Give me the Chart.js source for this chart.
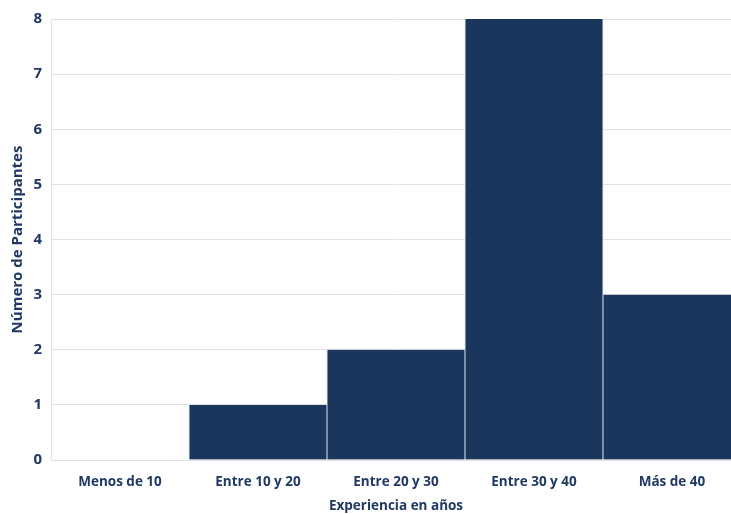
<!DOCTYPE html>
<html lang="es">
<head>
  <meta charset="UTF-8" />
  <title>Experiencia en años</title>
  <script src="https://cdn.jsdelivr.net/npm/chart.js"></script>
  <style>
    html, body {
      margin: 0;
      padding: 0;
      background: #ffffff;
      overflow: hidden;
    }
    .wrap {
      width: 741px;
      height: 514px;
    }
  </style>
</head>
<body>
  <div class="wrap">
    <canvas id="expChart" width="741" height="514"></canvas>
  </div>

  <script>
    const categories = ["Menos de 10", "Entre 10 y 20", "Entre 20 y 30", "Entre 30 y 40", "Más de 40"];
    const participants = [0, 1, 2, 8, 3];
    const yTicks = [0, 1, 2, 3, 4, 5, 6, 7, 8];

    const NAVY = "#1a365d";
    const TEXT = "#1f3864";
    const GRID = "#e2e2e2";
    const FONT = "'Open Sans', sans-serif";

    const ctx = document.getElementById("expChart").getContext("2d");
    new Chart(ctx, {
      type: "bar",
      data: {
        labels: categories,
        datasets: [{
          label: "Número de Participantes",
          data: participants,
          backgroundColor: NAVY,
          borderColor: "#aab8cb",
          borderWidth: { left: 1, right: 1, top: 0, bottom: 0 },
          categoryPercentage: 1,
          barPercentage: 1,
        }],
      },
      options: {
        responsive: false,
        animation: false,
        layout: { padding: { top: 19, left: 0, right: 0, bottom: 0 } },
        plugins: {
          legend: { display: false },
          tooltip: { enabled: false },
        },
        scales: {
          x: {
            grid: { display: false },
            border: { color: GRID },
            ticks: {
              color: TEXT,
              font: { family: FONT, size: 13.5, weight: "bold" },
              padding: 6,
            },
            title: {
              display: true,
              text: "Experiencia en años",
              color: TEXT,
              font: { family: FONT, size: 13.5, weight: "bold" },
              padding: { top: 4, bottom: 0 },
            },
            afterFit: s => { s.height = 54; },
          },
          y: {
            min: yTicks[0],
            max: yTicks[yTicks.length - 1],
            afterBuildTicks: s => { s.ticks = yTicks.map(v => ({ value: v })); },
            grid: { color: GRID, drawTicks: false },
            border: { color: GRID },
            ticks: {
              color: TEXT,
              font: { family: FONT, size: 15, weight: "bold" },
              padding: 9,
            },
            title: {
              display: true,
              text: "Número de Participantes",
              color: TEXT,
              font: { family: FONT, size: 15, weight: "bold" },
              padding: { top: 9, bottom: 0 },
            },
            afterFit: s => { s.width = 51; },
          },
        },
      },
    });
  </script>
</body>
</html>
